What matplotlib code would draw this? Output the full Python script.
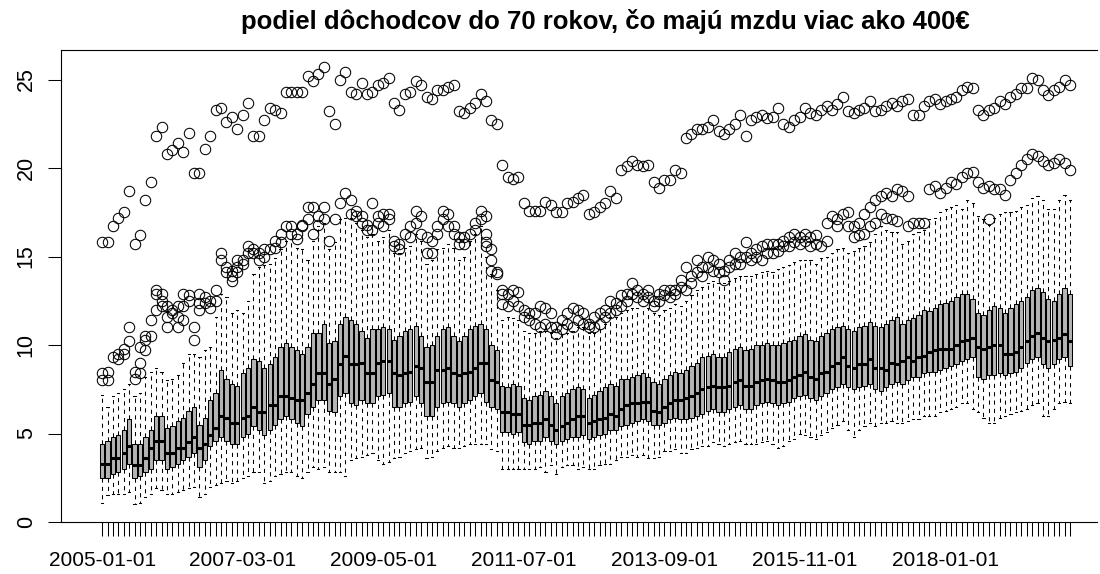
import matplotlib
matplotlib.use("Agg")
import matplotlib.pyplot as plt
import pandas as pd

# ── Data (one box per month 2005-01 .. 2019-12) ──────────────────────────────
months = pd.date_range("2005-01-01", periods=180, freq="MS")

med = [
    3.3, 3.3, 3.6, 3.6, 3.9, 4.3, 3.2, 3.2, 3.6, 4.2,
    4.6, 4.6, 3.9, 3.9, 4.2, 4.2, 4.5, 4.8, 4.2, 4.4,
    4.9, 5.3, 6.0, 5.9, 5.6, 5.6, 5.9, 6.0, 6.5, 6.2,
    6.2, 6.6, 6.6, 7.1, 7.1, 7.0, 6.9, 6.9, 7.3, 7.8,
    8.4, 8.4, 7.8, 8.1, 8.9, 9.4, 8.9, 8.9, 9.0, 8.4,
    8.4, 9.0, 9.1, 9.1, 8.4, 8.3, 8.4, 8.5, 8.8, 8.7,
    7.9, 7.9, 8.6, 8.6, 8.7, 8.4, 8.3, 8.4, 8.5, 8.7,
    9.0, 9.0, 8.0, 7.9, 6.2, 6.2, 6.1, 6.1, 5.5, 5.5,
    5.6, 5.6, 5.8, 5.5, 5.2, 5.4, 5.6, 5.8, 6.0, 6.0,
    5.6, 5.7, 5.8, 5.9, 6.1, 6.0, 6.4, 6.6, 6.7, 6.7,
    6.8, 6.8, 6.3, 6.2, 6.5, 6.7, 6.9, 6.9, 7.0, 7.1,
    7.3, 7.5, 7.6, 7.7, 7.6, 7.6, 7.7, 7.9, 8.0, 7.7,
    7.7, 7.9, 8.0, 8.1, 8.0, 7.9, 7.9, 8.0, 8.2, 8.3,
    8.5, 8.2, 8.1, 8.4, 8.5, 8.8, 9.0, 9.3, 8.8, 8.7,
    8.9, 8.9, 9.2, 8.7, 8.7, 8.6, 9.0, 8.9, 9.1, 9.3,
    9.1, 9.3, 9.4, 9.6, 9.7, 9.8, 9.8, 9.8, 10.0, 10.2,
    10.3, 10.4, 9.9, 9.8, 9.9, 10.0, 10.0, 9.5, 9.5, 9.6,
    9.9, 10.2, 10.5, 10.7, 10.4, 10.2, 10.3, 10.4, 10.6, 10.2,
]

q1 = [
    2.5, 2.5, 2.7, 2.8, 3.0, 3.3, 2.5, 2.6, 2.8, 3.0,
    3.5, 3.5, 3.0, 3.1, 3.3, 3.5, 3.7, 3.9, 3.1, 3.5,
    4.3, 4.6, 4.8, 4.6, 4.4, 4.4, 4.8, 5.0, 5.4, 5.2,
    4.9, 5.2, 5.5, 5.8, 6.0, 5.8, 5.6, 5.4, 6.1, 6.5,
    6.9, 6.9, 6.3, 6.2, 7.1, 7.3, 6.7, 6.6, 6.9, 6.7,
    6.7, 7.1, 7.2, 7.3, 6.5, 6.5, 6.7, 6.8, 7.1, 6.7,
    6.0, 6.0, 6.5, 6.7, 6.8, 6.7, 6.5, 6.7, 6.9, 7.1,
    7.3, 6.8, 6.5, 6.4, 5.1, 5.1, 5.0, 5.1, 4.5, 4.4,
    4.6, 4.6, 4.8, 4.6, 4.4, 4.6, 4.7, 4.8, 4.8, 4.9,
    4.7, 4.8, 4.9, 5.0, 5.2, 5.2, 5.4, 5.5, 5.6, 5.7,
    5.8, 5.7, 5.5, 5.5, 5.6, 5.8, 5.9, 5.8, 5.8, 5.9,
    6.0, 6.1, 6.3, 6.4, 6.2, 6.2, 6.4, 6.5, 6.6, 6.4,
    6.4, 6.6, 6.7, 6.8, 6.7, 6.6, 6.7, 6.8, 7.0, 7.1,
    7.2, 7.0, 6.9, 7.1, 7.3, 7.5, 7.6, 7.8, 7.6, 7.5,
    7.6, 7.7, 7.8, 7.5, 7.4, 7.6, 7.8, 7.9, 7.8, 8.0,
    8.2, 8.2, 8.4, 8.5, 8.5, 8.6, 8.7, 8.8, 8.9, 9.1,
    9.2, 9.3, 8.2, 8.1, 8.3, 8.3, 8.4, 8.3, 8.4, 8.5,
    8.7, 9.0, 9.2, 9.3, 8.9, 8.7, 8.9, 9.2, 9.3, 8.8,
]

q3 = [
    4.4, 4.6, 4.8, 4.9, 5.2, 5.8, 4.4, 4.4, 4.8, 5.2,
    6.0, 6.0, 5.3, 5.4, 5.7, 5.9, 6.3, 6.5, 5.5, 5.9,
    6.9, 7.3, 8.6, 8.1, 7.8, 7.7, 8.4, 8.7, 9.2, 9.1,
    8.7, 8.9, 9.3, 9.9, 10.1, 9.9, 9.7, 9.5, 9.9, 10.7,
    10.7, 11.2, 10.1, 10.2, 11.2, 11.6, 11.4, 11.2, 10.8, 10.4,
    10.9, 10.9, 11.0, 10.9, 10.3, 10.5, 10.8, 10.9, 11.1, 10.5,
    9.9, 10.0, 10.5, 10.9, 11.0, 10.5, 10.2, 10.5, 10.9, 11.1,
    11.2, 10.9, 10.0, 9.7, 7.7, 7.6, 7.8, 7.7, 7.0, 6.9,
    7.1, 7.2, 7.4, 7.1, 6.7, 7.1, 7.3, 7.5, 7.6, 7.5,
    7.0, 7.2, 7.4, 7.6, 7.8, 7.7, 8.1, 8.1, 8.2, 8.3,
    8.4, 8.2, 7.9, 7.8, 8.1, 8.3, 8.5, 8.4, 8.6, 8.8,
    9.0, 9.3, 9.4, 9.5, 9.3, 9.3, 9.6, 9.8, 9.9, 9.7,
    9.8, 10.0, 10.0, 10.1, 10.0, 10.0, 10.1, 10.2, 10.3, 10.5,
    10.6, 10.3, 10.2, 10.5, 10.7, 10.9, 11.0, 11.1, 10.9, 10.8,
    11.0, 11.1, 11.3, 11.1, 11.0, 11.2, 11.4, 11.6, 11.2, 11.4,
    11.5, 11.7, 12.0, 11.9, 12.1, 12.3, 12.4, 12.5, 12.7, 12.9,
    12.9, 12.6, 11.8, 11.7, 12.0, 12.2, 12.1, 11.8, 12.1, 12.3,
    12.5, 12.7, 13.1, 13.2, 13.0, 12.6, 12.5, 12.9, 13.2, 12.9,
]

whislo = [
    1.1, 1.5, 1.6, 1.6, 1.6, 1.7, 1.0, 1.1, 1.4, 1.6,
    1.9, 1.8, 1.6, 1.6, 1.7, 1.8, 1.9, 2.0, 1.4, 1.6,
    2.0, 2.1, 2.2, 2.3, 2.2, 2.3, 2.5, 2.6, 2.8, 2.8,
    2.2, 2.3, 2.6, 2.7, 2.8, 2.8, 2.6, 2.5, 2.8, 3.1,
    3.0, 3.1, 2.8, 2.8, 2.8, 2.6, 3.5, 3.6, 3.7, 3.8,
    3.9, 3.5, 3.3, 3.4, 3.6, 3.7, 3.9, 4.0, 4.1, 4.2,
    3.6, 3.7, 4.0, 4.2, 4.3, 4.2, 4.2, 4.3, 4.4, 4.4,
    4.4, 4.4, 4.1, 4.0, 3.0, 3.0, 3.0, 3.0, 3.0, 3.0,
    3.0, 3.1, 2.8, 3.2, 2.7, 3.1, 3.2, 3.2, 3.0, 3.1,
    3.0, 3.0, 3.2, 3.3, 3.3, 3.5, 3.7, 3.7, 3.8, 3.7,
    3.8, 3.6, 3.6, 3.7, 4.0, 4.0, 4.1, 3.9, 3.9, 4.1,
    4.2, 4.3, 4.3, 4.5, 4.4, 4.3, 4.4, 4.5, 4.6, 4.4,
    4.4, 4.4, 4.5, 4.6, 4.4, 4.2, 4.3, 4.6, 4.7, 5.0,
    4.9, 4.8, 4.7, 4.9, 5.1, 5.3, 5.5, 5.7, 5.2, 4.8,
    5.2, 5.4, 5.6, 5.4, 5.6, 5.6, 5.7, 5.6, 5.6, 5.7,
    5.8, 5.8, 6.0, 6.0, 6.0, 6.2, 6.3, 6.4, 6.5, 6.7,
    6.7, 6.4, 6.2, 5.9, 5.6, 5.6, 5.9, 6.0, 6.1, 6.2,
    6.3, 6.4, 6.6, 6.7, 6.0, 6.0, 6.4, 6.7, 6.8, 6.7,
]

whishi = [
    7.2, 6.5, 7.1, 7.3, 7.5, 7.8, 7.1, 7.3, 8.2, 8.5,
    8.7, 8.5, 8.0, 8.1, 8.3, 9.0, 9.5, 9.5, 9.3, 9.7,
    9.9, 11.6, 12.9, 12.7, 11.8, 12.0, 11.8, 12.5, 14.0, 14.4,
    14.5, 14.6, 14.9, 15.4, 15.9, 16.0, 15.5, 15.4, 14.8, 15.9,
    16.7, 16.9, 15.4, 15.8, 17.1, 17.2, 17.2, 16.9, 16.5, 16.1,
    16.3, 15.9, 16.1, 16.5, 15.2, 15.2, 15.5, 15.6, 16.3, 15.9,
    14.6, 14.8, 15.4, 15.5, 15.7, 15.5, 14.8, 15.0, 15.9, 16.3,
    16.7, 15.0, 14.0, 13.1, 11.4, 11.6, 11.5, 11.4, 10.8, 10.7,
    10.7, 10.8, 10.8, 10.7, 10.4, 10.6, 10.7, 10.8, 11.0, 11.0,
    10.7, 10.7, 10.9, 11.2, 11.6, 11.6, 11.8, 12.0, 12.1, 12.1,
    12.2, 12.1, 11.8, 11.7, 12.0, 12.1, 12.3, 12.2, 12.5, 12.8,
    13.1, 13.3, 13.5, 13.6, 13.5, 13.5, 13.6, 13.8, 13.9, 13.9,
    13.9, 14.0, 14.1, 14.2, 14.1, 14.3, 14.4, 14.5, 14.7, 14.8,
    14.8, 14.8, 14.6, 14.9, 15.0, 15.2, 15.4, 15.5, 15.2, 15.3,
    15.5, 15.6, 15.8, 16.3, 16.7, 16.5, 16.4, 16.4, 15.7, 15.9,
    16.3, 16.4, 16.5, 17.1, 17.2, 17.5, 17.7, 17.8, 17.9, 17.7,
    18.2, 18.0, 17.3, 17.1, 16.8, 17.2, 17.4, 17.5, 17.5, 17.6,
    17.8, 17.9, 18.3, 18.4, 18.2, 17.7, 17.7, 18.2, 18.5, 18.2,
]

# upper group of outliers, one per month
top_out = [
    15.8, 15.8, 16.7, 17.2, 17.5, 18.7, 15.7, 16.2, 18.2, 19.2,
    21.8, 22.3, 20.8, 21.0, 21.4, 20.9, 22.0, 19.7, 19.7, 21.1,
    21.8, 23.3, 23.4, 22.6, 22.9, 22.2, 23.0, 23.7, 21.8, 21.8,
    22.7, 23.4, 23.3, 23.1, 24.3, 24.3, 24.3, 24.3, 25.2, 24.9,
    25.3, 25.7, 23.2, 22.5, 25.0, 25.4, 24.3, 24.2, 24.8, 24.2,
    24.3, 24.7, 24.8, 25.1, 23.7, 23.3, 24.2, 24.3, 24.9, 24.7,
    24.0, 23.9, 24.4, 24.4, 24.6, 24.7, 23.2, 23.1, 23.4, 23.7,
    24.2, 23.8, 22.7, 22.5, 20.2, 19.5, 19.4, 19.5, 18.0, 17.6,
    17.6, 17.6, 18.1, 17.9, 17.5, 17.5, 18.0, 18.1, 18.3, 18.5,
    17.4, 17.5, 17.8, 18.0, 18.7, 18.3, 19.9, 20.1, 20.4, 20.2,
    20.1, 20.2, 19.2, 18.9, 19.3, 19.3, 19.9, 19.7, 21.7, 21.9,
    22.2, 22.2, 22.3, 22.7, 22.1, 21.9, 22.2, 22.5, 23.0, 21.8,
    22.7, 22.9, 23.0, 22.8, 22.9, 23.4, 22.5, 22.3, 22.7, 22.9,
    23.4, 23.1, 23.0, 23.3, 23.5, 23.3, 23.6, 24.0, 23.2, 23.1,
    23.3, 23.4, 23.8, 23.2, 23.3, 23.5, 23.7, 23.5, 23.8, 23.9,
    23.0, 23.0, 23.5, 23.8, 23.9, 23.6, 23.8, 23.9, 24.0, 24.4,
    24.6, 24.5, 23.3, 23.0, 23.3, 23.4, 23.8, 23.6, 24.0, 24.2,
    24.5, 24.5, 25.1, 25.0, 24.4, 24.1, 24.4, 24.6, 25.0, 24.7,
]

# outliers just above the upper whisker
mid_out = [
    [8.4, 8.0], [8.5, 8.0], [9.3], [9.5, 9.2], [9.8, 9.5], [11.0, 10.2], [8.1, 8.5], [8.4, 9.0, 9.9], [9.7, 10.3, 10.5], [11.4, 10.5],
    [13.1, 12.9, 12.0], [12.9, 12.5, 12.2], [11.0, 11.6, 12.2], [11.8, 12.0], [11.6, 11.0, 12.2], [12.9, 12.2, 11.4], [12.8, 12.5], [11.0, 10.3], [12.4, 12.0, 12.9], [12.7, 12.4],
    [12.1, 12.5], [13.1, 12.5], [15.2, 14.8], [14.1, 14.4], [13.6, 13.9, 14.2], [14.1, 14.4, 14.8], [14.8, 14.6], [15.2, 15.6], [15.2, 15.4], [14.8, 15.2],
    [15.0, 15.4], [15.4], [15.5, 15.9], [15.8, 16.3], [16.7], [16.7, 16.3], [16.0, 16.3], [16.7, 16.8], [17.8, 17.1], [17.8, 16.3],
    [17.3, 16.8], [17.8, 17.1], [15.9], [17.1], [18.0], [18.6], [18.2, 17.4], [17.3, 17.6], [16.9, 17.3], [16.8, 16.5],
    [18.0, 16.5], [16.9, 17.3], [17.4, 16.7], [17.1, 17.4], [15.6, 15.9], [15.4, 15.7], [16.3], [16.7, 16.1], [17.6, 16.9], [17.3, 16.3],
    [16.1, 15.2], [15.9, 15.2], [16.7, 16.3], [17.6, 17.1], [17.4, 16.7], [16.7, 16.3], [16.1, 15.7], [16.1, 15.7], [16.3], [16.9, 16.5],
    [17.6, 17.1], [17.3, 16.3, 15.8, 15.6], [15.4, 14.8, 14.2], [14.1, 14.0], [13.1, 12.9, 12.3], [12.9, 12.2], [13.1, 12.5], [13.0, 12.2], [12.0, 11.6], [11.8, 11.4],
    [11.8, 11.2], [12.2, 11.0], [12.1, 11.2], [11.8, 11.0], [11.0, 10.6], [11.4, 10.9], [11.8, 11.2], [12.1, 11.0], [12.0, 11.4], [11.8, 11.2],
    [11.2, 11.0], [11.6, 11.0], [11.8, 11.2], [12.0, 11.6], [12.5, 11.8], [12.4, 12.0], [12.8, 12.2], [12.9, 12.5], [13.5, 12.9], [13.1, 12.7],
    [12.9, 12.5], [13.1, 12.7], [12.5, 12.2], [12.9, 12.5], [13.1, 12.8], [13.1, 12.7], [13.1, 12.9], [13.7, 13.3], [13.1, 14.4], [13.9, 13.5],
    [14.1, 14.8], [14.4, 13.9], [14.4, 15.0], [14.8, 14.2], [14.6, 14.1], [14.2, 13.7], [14.4, 14.8], [15.2, 14.6], [15.0, 14.6], [15.8, 15.0],
    [15.2, 14.8], [15.0, 15.4], [15.6, 14.8], [15.7, 15.2], [15.2, 15.7], [15.7, 15.3], [15.6, 15.9], [16.1, 15.6], [16.3, 15.8], [16.1, 15.7],
    [15.9, 16.3], [16.1, 15.6], [16.2, 15.7], [15.6], [16.9, 15.9], [17.3], [17.1, 16.7], [17.4], [17.5, 16.7], [16.7, 16.1],
    [16.9, 16.2], [17.4, 16.3], [17.8, 16.7], [18.2, 16.9], [18.4, 17.4], [18.6, 17.2], [18.4, 17.1], [18.8, 17.0], [18.7], [18.4, 16.7],
    [16.9], [16.9], [16.9], [18.8], [19.0], [18.6], [18.9], [19.2], [19.1], [19.5],
    [19.7], [19.8], [19.2], [18.9], [19.0, 17.1], [18.8], [18.8], [18.5], [19.3], [19.7],
    [20.2], [20.5], [20.8], [20.7], [20.4], [20.2], [20.3], [20.5], [20.3], [19.9],
]

title = "podiel dôchodcov do 70 rokov, čo majú mzdu viac ako 400€"

# ── Plot ──────────────────────────────────────────────────────────────────────
plt.rcParams["font.family"] = ["Liberation Sans", "DejaVu Sans"]

stats = []
for i in range(len(months)):
    stats.append({
        "med": med[i], "q1": q1[i], "q3": q3[i],
        "whislo": whislo[i], "whishi": whishi[i],
        "fliers": [top_out[i]] + mid_out[i],
    })

fig = plt.figure(figsize=(11, 5.74), dpi=100)
ax = fig.add_axes([61 / 1100, 52 / 574, 1036 / 1100, 472 / 574])

ax.bxp(
    stats,
    positions=range(len(stats)),
    widths=0.8,
    capwidths=0.4,
    patch_artist=True,
    manage_ticks=False,
    boxprops=dict(facecolor="#b4b4b4", edgecolor="black", linewidth=0.75),
    medianprops=dict(color="black", linewidth=2.2, solid_capstyle="butt"),
    whiskerprops=dict(color="black", linewidth=0.75, linestyle=(0, (4, 4))),
    capprops=dict(color="black", linewidth=0.75),
    flierprops=dict(marker="o", markersize=7.5, markerfacecolor="none",
                    markeredgecolor="black", markeredgewidth=0.75),
)

ax.set_xlim(-7.6, 184.0)
ax.set_ylim(0, 26.67)
# the frame runs off the right edge of the picture
ax.spines["right"].set_visible(False)

step = 26
ax.set_xticks(range(len(months)))
ax.set_xticklabels([m.strftime("%Y-%m-%d") if i % step == 0 else ""
                    for i, m in enumerate(months)])
ax.tick_params(axis="x", length=10, width=0.75, pad=11, labelsize=15)

ax.set_yticks([0, 5, 10, 15, 20, 25])
ax.set_yticklabels(["0", "5", "10", "15", "20", "25"], rotation=90, va="center")
ax.tick_params(axis="y", length=9.5, width=0.75, pad=8, labelsize=15.5)

for sp in ax.spines.values():
    sp.set_linewidth(0.8)

fig.text(0.55, 1 - 21 / 574, title, ha="center", va="center",
         fontsize=18.5, fontweight="bold")

fig.savefig("out.png", dpi=100)
plt.close(fig)
